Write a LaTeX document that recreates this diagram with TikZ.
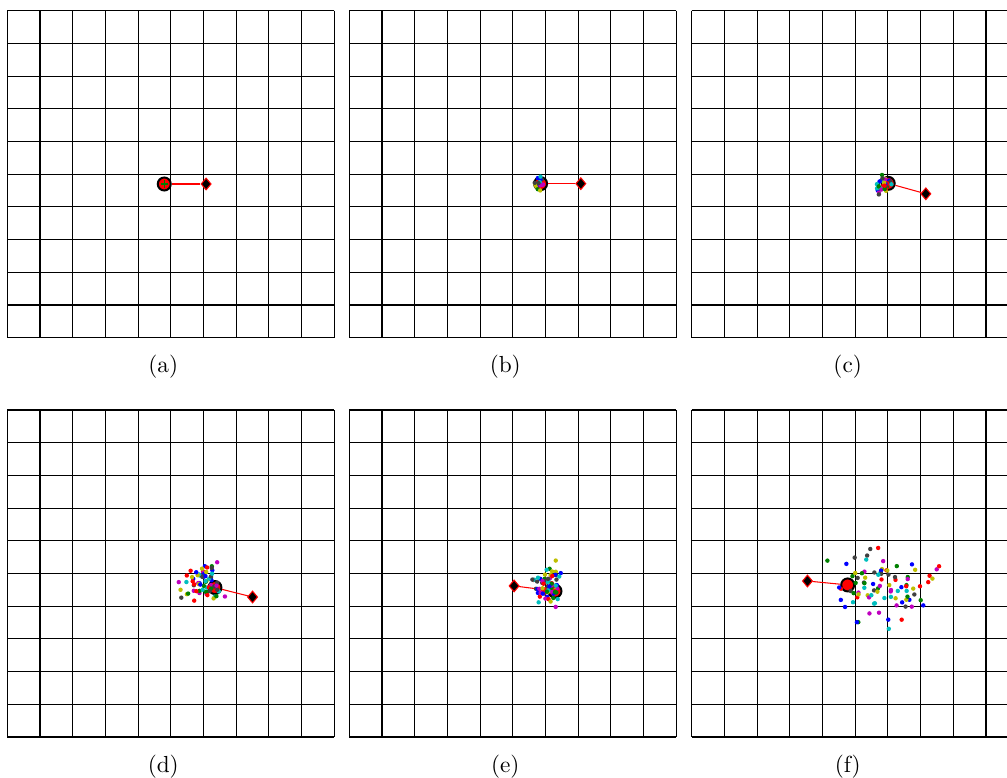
\documentclass[tikz,border=0pt]{standalone}
\usepackage{tikz}
\usetikzlibrary{shapes.geometric}

% particle colours
\definecolor{dot0}{rgb}{1,0,0}
\definecolor{dot1}{rgb}{0,0.5,0}
\definecolor{dot2}{rgb}{0,0,1}
\definecolor{dot3}{rgb}{0,0.75,0.75}
\definecolor{dot4}{rgb}{0.75,0,0.75}
\definecolor{dot5}{rgb}{0.75,0.75,0}
\definecolor{dot6}{rgb}{0.25,0.25,0.25}

\tikzset{
  gridline/.style={black,line width=0.45pt},
  panel/.style={x=14.06pt,y=-14.06pt},
  agent/.style={circle,draw=black,fill=red,line width=0.85pt,minimum size=5.6pt,inner sep=0pt},
  goal/.style={diamond,draw=red,fill=black,line width=0.45pt,minimum width=4.4pt,minimum height=5.2pt,inner sep=0pt},
  link/.style={red,line width=0.45pt},
  caption/.style={font=\normalsize,inner sep=0pt}
}

\newcommand\drawgrid{%
  \foreach \i in {0,...,10}{
    \draw[gridline] (\i,0) -- (\i,10);
    \draw[gridline] (0,\i) -- (10,\i);
  }}

% seed, centre x, centre y, spread x, spread y, count
\newcommand\swarm[6]{%
  \pgfmathsetseed{#1}
  \foreach \k in {1,...,#6}{
    \pgfmathsetmacro\px{#2+#4*(rand+rand+rand)}
    \pgfmathsetmacro\py{#3+#5*(rand+rand+rand)}
    \pgfmathtruncatemacro\c{mod(\k,7)}
    \fill[dot\c] (\px,\py) circle[radius=0.95pt];
  }}

\begin{document}
\begin{tikzpicture}[x=0.43pt,y=-0.43pt]
\clip (0,0) rectangle (1007,778);

% (a)
\begin{scope}[shift={(7.3,10.7)},panel]
\drawgrid
\node[agent] (pa) at (4.80,5.30) {};
\node[goal] (ga) at (6.08,5.30) {};
\draw[link] (pa) -- (ga);
\draw[dot1,line width=0.6pt] (pa.center) +(-1.6pt,0) -- +(1.6pt,0);
\draw[dot1,line width=0.6pt] (pa.center) +(0,-1.6pt) -- +(0,1.6pt);
\node[caption] (ca) at (4.77,10.9) {(a)};
\end{scope}

% (b)
\begin{scope}[shift={(349.3,10.7)},panel]
\drawgrid
\node[agent] (pb) at (5.85,5.29) {};
\node[goal] (gb) at (7.08,5.29) {};
\draw[link] (pb) -- (gb);
\swarm{3}{5.79}{5.29}{0.07}{0.13}{20}
\node[caption] (cb) at (4.77,10.9) {(b)};
\end{scope}

% (c)
\begin{scope}[shift={(691.7,10.7)},panel]
\drawgrid
\node[agent] (pc) at (6.01,5.28) {};
\node[goal] (gc) at (7.16,5.60) {};
\draw[link] (pc) -- (gc);
\swarm{5}{5.88}{5.30}{0.13}{0.18}{35}
\node[caption] (cc) at (4.77,10.9) {(c)};
\end{scope}

% (d)
\begin{scope}[shift={(7.3,410)},panel]
\drawgrid
\node[agent] (pd) at (6.35,5.43) {};
\node[goal] (gd) at (7.50,5.72) {};
\draw[link] (pd) -- (gd);
\swarm{11}{5.93}{5.29}{0.27}{0.27}{70}
\node[caption] (cd) at (4.77,10.9) {(d)};
\end{scope}

% (e)
\begin{scope}[shift={(349.3,410)},panel]
\drawgrid
\node[agent] (pe) at (6.29,5.54) {};
\node[goal] (ge) at (5.04,5.38) {};
\draw[link] (pe) -- (ge);
\swarm{17}{6.05}{5.32}{0.2}{0.28}{70}
\node[caption] (ce) at (4.77,10.9) {(e)};
\end{scope}

% (f)
\begin{scope}[shift={(691.7,410)},panel]
\drawgrid
\node[agent] (pf) at (4.77,5.35) {};
\node[goal] (gf) at (3.54,5.23) {};
\draw[link] (pf) -- (gf);
\swarm{23}{5.95}{5.35}{0.72}{0.56}{90}
\node[caption] (cf) at (4.77,10.9) {(f)};
\end{scope}
\end{tikzpicture}
\end{document}
